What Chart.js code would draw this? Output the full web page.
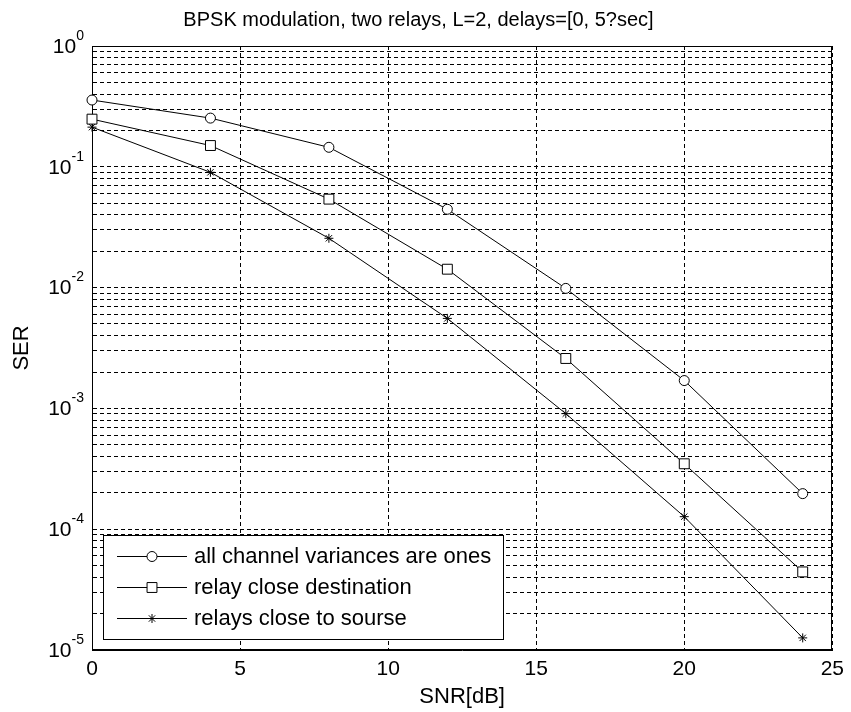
<!DOCTYPE html>
<html><head><meta charset="utf-8">
<script src="https://cdn.jsdelivr.net/npm/chart.js@4.4.0/dist/chart.umd.min.js"></script>
<style>html,body{margin:0;padding:0;background:#fff}canvas{display:block}</style>
</head><body>
<canvas id="c" width="851" height="712"></canvas>
<script>
// ---- data ----
const snrDb = [0, 4, 8, 12, 16, 20, 24];
const serAllOnes = [0.357, 0.253, 0.145, 0.0445, 0.00985, 0.0017, 0.000197];
const serRelayCloseDest = [0.248, 0.150, 0.054, 0.0142, 0.00259, 0.000348, 0.0000443];
const serRelaysCloseSource = [0.213, 0.090, 0.0256, 0.00556, 0.000905, 0.000127, 0.0000126];
const seriesLabels = ['all channel variances are ones', 'relay close destination', 'relays close to sourse'];
const xTicks = [0, 5, 10, 15, 20, 25];
const yDecadeExponents = [-5, -4, -3, -2, -1, 0];
const yMantissas = [1, 2, 3, 4, 5, 6, 7, 8, 9];
const titleText = 'BPSK modulation, two relays, L=2, delays=[0, 5?sec]';
const xTitle = 'SNR[dB]';
const yTitle = 'SER';

const FONT = "'Liberation Sans', Arial, Helvetica, sans-serif";
Chart.defaults.font.family = FONT;
Chart.defaults.color = '#000';

const pointStyles = ['circle', 'rect', 'star'];
const pointRadii = [5, 7, 4.5];
const seriesData = [serAllOnes, serRelayCloseDest, serRelaysCloseSource];

const datasets = seriesData.map((arr, k) => ({
  label: seriesLabels[k],
  data: snrDb.map((x, i) => ({x: x, y: arr[i]})),
  borderColor: '#000', borderWidth: 1, tension: 0, fill: false, clip: false,
  pointStyle: pointStyles[k], pointRadius: pointRadii[k], pointHoverRadius: pointRadii[k],
  pointBackgroundColor: '#fff', pointBorderColor: '#000', pointBorderWidth: 1
}));

function drawMarker(ctx, style, r, x, y) {
  ctx.save();
  ctx.strokeStyle = '#000'; ctx.fillStyle = '#fff'; ctx.lineWidth = 1;
  ctx.beginPath();
  if (style === 'circle') { ctx.arc(x, y, r, 0, Math.PI * 2); ctx.fill(); ctx.stroke(); }
  else if (style === 'rect') { const s = Math.SQRT1_2 * r; ctx.rect(x - s, y - s, 2 * s, 2 * s); ctx.fill(); ctx.stroke(); }
  else {
    ctx.moveTo(x - r, y); ctx.lineTo(x + r, y); ctx.moveTo(x, y - r); ctx.lineTo(x, y + r);
    const d = r * Math.SQRT1_2;
    ctx.moveTo(x - d, y - d); ctx.lineTo(x + d, y + d); ctx.moveTo(x - d, y + d); ctx.lineTo(x + d, y - d);
    ctx.stroke();
  }
  ctx.restore();
}

const framePlugin = {
  id: 'frame',
  beforeDatasetsDraw(chart) {
    const {ctx, chartArea: a} = chart;
    ctx.save();
    ctx.strokeStyle = '#000'; ctx.lineWidth = 1; ctx.setLineDash([]);
    ctx.strokeRect(Math.round(a.left) + 0.5, Math.round(a.top) + 0.5, Math.round(a.right - a.left) - 1, Math.round(a.bottom - a.top) - 1);
    ctx.restore();
  }
};

const yLabelPlugin = {
  id: 'yLabels',
  afterDraw(chart) {
    const ctx = chart.ctx, ys = chart.scales.y;
    const rightEdge = ys.right - 8;
    ctx.save();
    ctx.fillStyle = '#000';
    yDecadeExponents.forEach(e => {
      const y = ys.getPixelForValue(Math.pow(10, e));
      const expStr = String(e);
      ctx.font = '14px ' + FONT;
      const ew = ctx.measureText(expStr).width;
      ctx.textAlign = 'left'; ctx.textBaseline = 'middle';
      ctx.fillText(expStr, rightEdge - ew, y - 10);
      ctx.font = '21px ' + FONT;
      ctx.textAlign = 'right';
      ctx.fillText('10', rightEdge - ew, y + 1);
    });
    ctx.restore();
  }
};

const legendPlugin = {
  id: 'boxLegend',
  afterDraw(chart) {
    const ctx = chart.ctx, a = chart.chartArea;
    const bx = a.left + 11, by = 535, bw = 400, bh = 104;
    ctx.save();
    ctx.fillStyle = '#fff'; ctx.fillRect(bx, by, bw, bh);
    ctx.strokeStyle = '#000'; ctx.lineWidth = 1;
    ctx.strokeRect(bx + 0.5, by + 0.5, bw, bh);
    const rows = [556, 587, 618];
    ctx.font = '22px ' + FONT; ctx.textAlign = 'left'; ctx.textBaseline = 'middle'; ctx.fillStyle = '#000';
    seriesLabels.forEach((lab, k) => {
      const y = rows[k] + 0.5;
      ctx.beginPath(); ctx.moveTo(bx + 14, y); ctx.lineTo(bx + 84, y); ctx.stroke();
      drawMarker(ctx, pointStyles[k], pointRadii[k], bx + 49, y);
      ctx.fillStyle = '#000';
      ctx.fillText(lab, bx + 91, rows[k] + 1);
    });
    ctx.restore();
  }
};

const yGridValues = [];
yDecadeExponents.forEach(e => {
  if (e === 0) { yGridValues.push(1); return; }
  yMantissas.forEach(m => yGridValues.push(m * Math.pow(10, e)));
});

new Chart(document.getElementById('c'), {
  type: 'line',
  data: {datasets},
  options: {
    responsive: false, animation: false, devicePixelRatio: 1,
    layout: {padding: {left: 0, right: 14, top: 0, bottom: 0}},
    plugins: {
      legend: {display: false}, tooltip: {enabled: false},
      title: {display: true, text: titleText, color: '#000', font: {size: 20, weight: 'normal'}, padding: {top: 8, bottom: 14}}
    },
    scales: {
      x: {
        type: 'linear', min: 0, max: 25,
        afterBuildTicks: s => { s.ticks = xTicks.map(v => ({value: v})); },
        afterFit: s => { s.height = 62; },
        ticks: {font: {size: 21}, color: '#000', padding: 7, maxRotation: 0},
        grid: {color: '#000', lineWidth: 1, drawTicks: false},
        border: {display: true, color: '#000', width: 1, dash: [4, 3]},
        title: {display: true, text: xTitle, color: '#000', font: {size: 22}, padding: {top: 0, bottom: 2}}
      },
      y: {
        type: 'logarithmic', min: 1e-5, max: 1,
        afterBuildTicks: s => { s.ticks = yGridValues.map(v => ({value: v})); },
        afterFit: s => { s.width = 92; },
        ticks: {display: false},
        grid: {color: '#000', lineWidth: 1, drawTicks: false},
        border: {display: true, color: '#000', width: 1, dash: [4, 3]},
        title: {display: true, text: yTitle, color: '#000', font: {size: 22}, padding: {top: 9, bottom: 0}}
      }
    }
  },
  plugins: [framePlugin, yLabelPlugin, legendPlugin]
});
</script>
</body></html>
